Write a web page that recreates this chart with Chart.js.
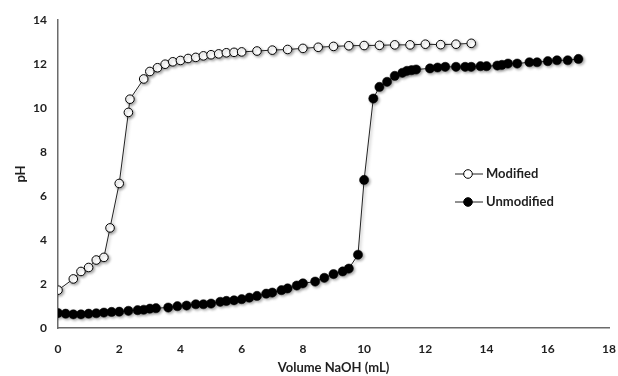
<!DOCTYPE html>
<html>
<head>
<meta charset="utf-8">
<script src="https://cdn.jsdelivr.net/npm/chart.js@4"></script>
<style>
  html, body { margin: 0; padding: 0; background: #fff; }
  #wrap { width: 618px; height: 376px; position: relative; }
</style>
</head>
<body>
<div id="wrap"><canvas id="grafico" width="618" height="376"></canvas></div>
<script>
// volume NaOH (mL) and pH
const modVolume = [0, 0.5, 0.75, 1, 1.25, 1.5, 1.7, 2, 2.3, 2.35, 2.8, 3, 3.25, 3.5, 3.75, 4,
    4.25, 4.5, 4.75, 5, 5.25, 5.5, 5.75, 6, 6.5, 7, 7.5, 8, 8.5, 9, 9.5, 10,
    10.5, 11, 11.5, 12, 12.5, 13, 13.5];
const modPH = [1.72, 2.23, 2.57, 2.75, 3.09, 3.21, 4.55, 6.57, 9.8, 10.4, 11.32, 11.66, 11.83, 11.99, 12.1, 12.16,
    12.25, 12.3, 12.37, 12.42, 12.46, 12.51, 12.53, 12.55, 12.59, 12.63, 12.66, 12.71, 12.76, 12.8, 12.83, 12.84,
    12.85, 12.87, 12.87, 12.9, 12.88, 12.9, 12.94];

const unmodVolume = [0, 0.25, 0.5, 0.75, 1, 1.25, 1.5, 1.75, 2, 2.3, 2.6, 2.8, 3, 3.2, 3.6, 3.9,
    4.2, 4.5, 4.75, 5, 5.3, 5.5, 5.75, 6, 6.25, 6.5, 6.8, 7, 7.3, 7.5, 7.8, 8,
    8.4, 8.7, 9, 9.3, 9.5, 9.8, 10, 10.3, 10.5, 10.75, 11, 11.25, 11.4, 11.55, 11.7,
    12.15, 12.4, 12.65, 13, 13.3, 13.5, 13.8, 14, 14.35, 14.5, 14.7, 15, 15.4, 15.65,
    16, 16.3, 16.65, 17];
const unmodPH = [0.68, 0.65, 0.62, 0.62, 0.65, 0.67, 0.7, 0.73, 0.74, 0.78, 0.81, 0.83, 0.88, 0.9, 0.93, 0.99,
    1.02, 1.08, 1.08, 1.11, 1.19, 1.23, 1.26, 1.31, 1.38, 1.46, 1.56, 1.61, 1.72, 1.8, 1.93, 2.03,
    2.11, 2.28, 2.45, 2.57, 2.7, 3.33, 6.73, 10.43, 10.96, 11.19, 11.46, 11.6, 11.69, 11.72, 11.75,
    11.8, 11.84, 11.87, 11.87, 11.87, 11.87, 11.9, 11.9, 11.93, 11.96, 12.02, 12.02, 12.08, 12.08,
    12.13, 12.17, 12.17, 12.23];

const xTicks = [0, 2, 4, 6, 8, 10, 12, 14, 16, 18];
const yTicks = [0, 2, 4, 6, 8, 10, 12, 14];

const fonte = 'Lato, "Liberation Sans", sans-serif';
const corTexto = '#1f1f1f';

function pares(xs, ys) {
    return xs.map((x, i) => ({ x: x, y: ys[i] }));
}

// soft excel-like shadow under markers
const sombra = {
    id: 'sombra',
    beforeDatasetsDraw(chart) {
        const ctx = chart.ctx;
        ctx.save();
        ctx.shadowColor = 'rgba(0,0,0,0.35)';
        ctx.shadowBlur = 3;
        ctx.shadowOffsetX = 1.5;
        ctx.shadowOffsetY = 1.5;
    },
    afterDatasetsDraw(chart) {
        chart.ctx.restore();
    }
};

// legend drawn inside the plot area
const legenda = {
    id: 'legenda',
    afterDraw(chart) {
        const ctx = chart.ctx;
        const x0 = 455, y0 = 174, passo = 28;
        chart.data.datasets.forEach((ds, i) => {
            const y = y0 + i * passo;
            ctx.save();
            ctx.strokeStyle = '#222';
            ctx.lineWidth = 1;
            ctx.beginPath();
            ctx.moveTo(x0, y);
            ctx.lineTo(x0 + 28, y);
            ctx.stroke();
            ctx.beginPath();
            ctx.arc(x0 + 13, y, 4.3, 0, Math.PI * 2);
            ctx.fillStyle = ds.pointBackgroundColor;
            ctx.fill();
            ctx.lineWidth = 1;
            ctx.strokeStyle = '#000';
            ctx.stroke();
            ctx.fillStyle = corTexto;
            ctx.font = 'bold 13px ' + fonte;
            ctx.textBaseline = 'middle';
            ctx.fillText(ds.label, x0 + 31, y);
            ctx.restore();
        });
    }
};

const ctx = document.getElementById('grafico').getContext('2d');

new Chart(ctx, {
    type: 'scatter',
    data: {
        datasets: [{
            label: 'Modified',
            data: pares(modVolume, modPH),
            showLine: true,
            borderColor: '#222',
            borderWidth: 1,
            pointRadius: 4.3,
            pointBorderWidth: 1,
            pointBackgroundColor: '#ffffff',
            pointBorderColor: '#000'
        }, {
            label: 'Unmodified',
            data: pares(unmodVolume, unmodPH),
            showLine: true,
            borderColor: '#222',
            borderWidth: 1,
            pointRadius: 4.6,
            pointBorderWidth: 0.5,
            pointBackgroundColor: '#000000',
            pointBorderColor: '#000'
        }]
    },
    options: {
        responsive: false,
        animation: false,
        devicePixelRatio: 1,
        layout: { padding: { left: 0, right: 9, top: 20, bottom: 0 } },
        plugins: {
            legend: { display: false },
            tooltip: { enabled: false }
        },
        scales: {
            x: {
                type: 'linear',
                min: 0,
                max: 18,
                afterBuildTicks: s => { s.ticks = xTicks.map(v => ({ value: v })); },
                afterFit: s => { s.height = 48; s.paddingLeft = 0; s.paddingRight = 0; },
                grid: { display: false, drawTicks: false },
                border: { display: true, color: '#6b6b6b', width: 1.5 },
                ticks: { autoSkip: false, maxRotation: 0, padding: 14, color: corTexto, font: { family: fonte, size: 12, weight: 'bold' } },
                title: {
                    display: true,
                    text: 'Volume NaOH (mL)',
                    color: corTexto,
                    padding: { top: 0, bottom: 0 },
                    font: { family: fonte, size: 13, weight: 'bold' }
                }
            },
            y: {
                min: 0,
                max: 14,
                afterBuildTicks: s => { s.ticks = yTicks.map(v => ({ value: v })); },
                afterFit: s => { s.width = 58; s.paddingTop = 0; s.paddingBottom = 0; },
                grid: { display: false, drawTicks: false },
                border: { display: true, color: '#6b6b6b', width: 1.5 },
                ticks: { autoSkip: false, padding: 11, color: corTexto, font: { family: fonte, size: 12, weight: 'bold' } },
                title: {
                    display: true,
                    text: 'pH',
                    color: corTexto,
                    padding: { top: 13, bottom: 0 },
                    font: { family: fonte, size: 13, weight: 'bold' }
                }
            }
        }
    },
    plugins: [sombra, legenda]
});
</script>
</body>
</html>
